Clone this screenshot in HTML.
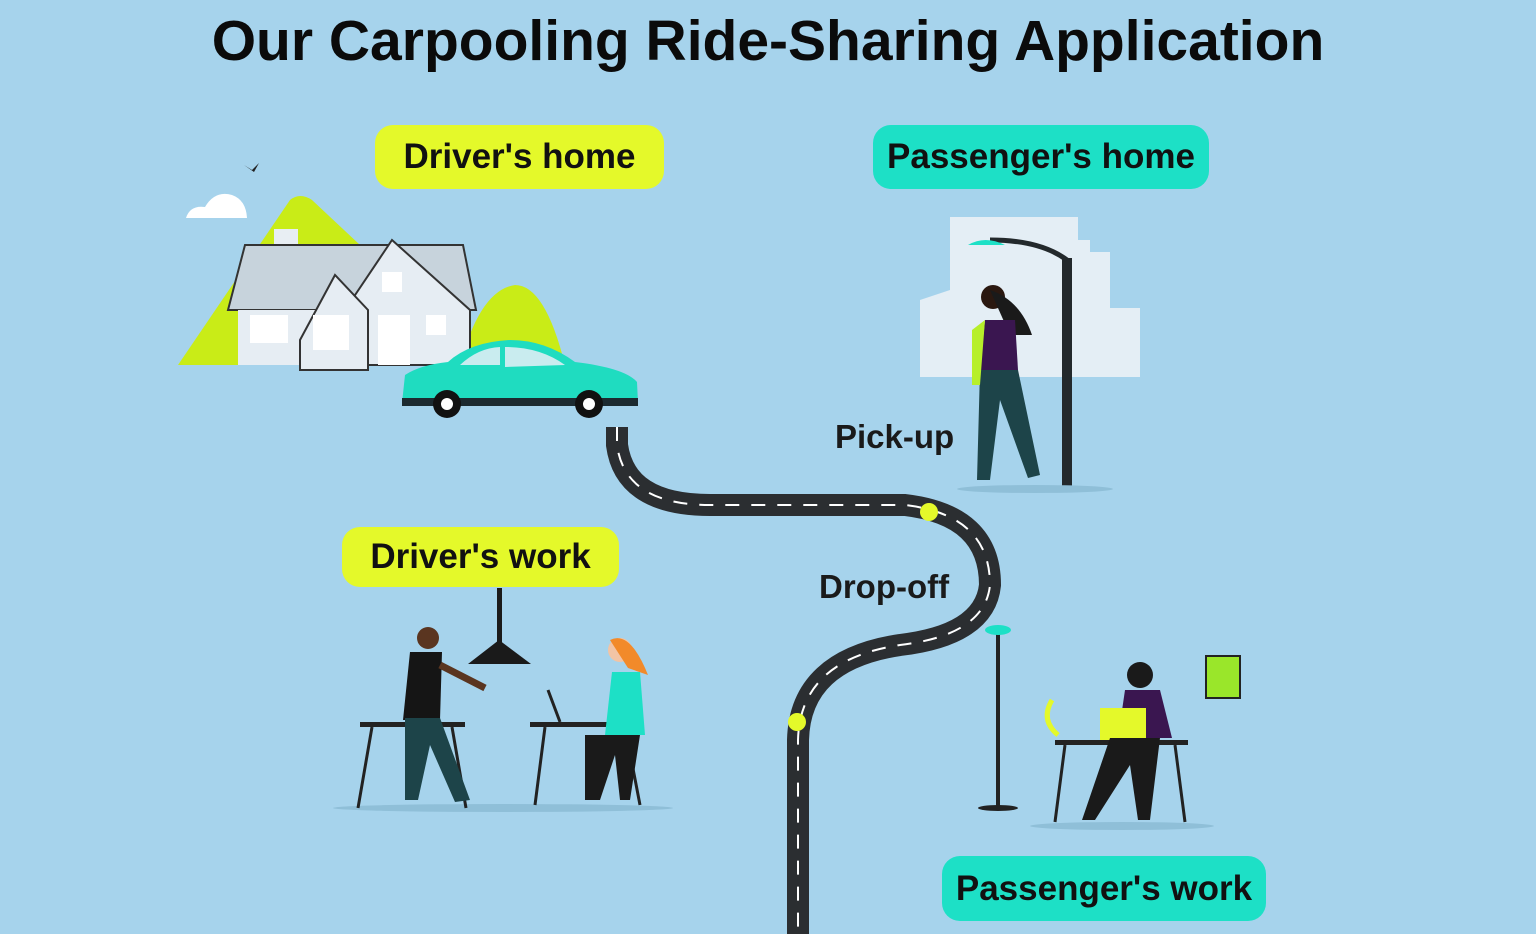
<!DOCTYPE html>
<html><head><meta charset="utf-8"><style>
html,body{margin:0;padding:0}
body{width:1536px;height:934px;background:#a6d3ec;position:relative;overflow:hidden;font-family:"Liberation Sans",sans-serif}
.t{position:absolute;left:0;width:1536px;top:8px;text-align:center;font-size:57px;font-weight:bold;color:#0b0b0b}
.pill{position:absolute;border-radius:18px;font-size:35px;font-weight:bold;color:#111;display:flex;align-items:center;justify-content:center}
.y{background:#e4f92a}.g{background:#1de0c6}
.lbl{position:absolute;font-size:33px;font-weight:bold;color:#1a1a1a}
svg{position:absolute;left:0;top:0}
</style></head><body>
<svg width="1536" height="934">
 <path d="M178,365 L290,200 Q300,192 312,200 L360,245 L360,365Z" fill="#c9ec17"/>
 <path d="M460,365 Q480,290 515,285 Q545,285 565,365Z" fill="#c9ec17"/>
 <path d="M186,218 Q190,205 205,207 Q215,190 232,195 Q246,200 247,218Z" fill="#fff"/>
 <path d="M244,165 L252,170 L259,163 L254,172Z" fill="#222"/>
 <g>
  <rect x="274" y="229" width="24" height="18" fill="#e8eef3"/>
  <path d="M228,310 L245,245 L463,245 L476,310Z" fill="#c7d3dc" stroke="#333" stroke-width="2"/>
  <rect x="238" y="310" width="230" height="55" fill="#e6edf3"/>
  <path d="M345,310 L392,240 L470,310 L470,365 L345,365Z" fill="#e6edf3" stroke="#333" stroke-width="2"/>
  <path d="M300,340 L335,275 L368,310 L368,370 L300,370Z" fill="#e6edf3" stroke="#333" stroke-width="2"/>
  <rect x="250" y="315" width="38" height="28" fill="#fff"/>
  <rect x="313" y="315" width="36" height="35" fill="#fff"/>
  <rect x="378" y="315" width="32" height="50" fill="#fff"/>
  <rect x="382" y="272" width="20" height="20" fill="#fff"/>
  <rect x="426" y="315" width="20" height="20" fill="#fff"/>
 </g>
 <g>
  <path d="M402,403 L405,375 Q420,365 448,362 Q470,342 510,340 Q545,340 575,362 Q625,368 637,382 L638,403Z" fill="#1fdcc0"/>
  <rect x="402" y="398" width="236" height="8" fill="#1c2a30"/>
  <path d="M460,365 Q478,348 500,347 L500,365Z M505,347 Q540,347 565,365 L505,367Z" fill="#c9ecef"/>
  <circle cx="447" cy="404" r="14" fill="#111"/><circle cx="447" cy="404" r="6" fill="#fff"/>
  <circle cx="589" cy="404" r="14" fill="#111"/><circle cx="589" cy="404" r="6" fill="#fff"/>
 </g>
 <g>
  <path d="M617,427 L617,445 Q625,505 710,505 L905,505 Q990,515 990,585 Q985,635 900,645 Q800,660 798,740 L798,934" fill="none" stroke="#2b2e31" stroke-width="22"/>
  <path d="M617,427 L617,445 Q625,505 710,505 L905,505 Q990,515 990,585 Q985,635 900,645 Q800,660 798,740 L798,934" fill="none" stroke="#fff" stroke-width="2" stroke-dasharray="14,12"/>
  <circle cx="929" cy="512" r="9" fill="#e4f92a"/>
  <circle cx="797" cy="722" r="9" fill="#e4f92a"/>
 </g>
 <g>
  <path d="M950,217 L1078,217 L1078,240 L1090,240 L1090,252 L1110,252 L1110,308 L1140,308 L1140,377 L920,377 L920,300 L950,290Z" fill="#e4eef5"/>
  <rect x="1062" y="258" width="10" height="230" fill="#23292c"/>
  <path d="M1067,260 Q1040,240 990,240" fill="none" stroke="#23292c" stroke-width="5"/>
  <path d="M968,245 Q985,235 1005,245Z" fill="#1de0c6"/>
  <circle cx="993" cy="297" r="12" fill="#2a1810"/>
  <path d="M990,290 Q1020,300 1032,335 L1010,335Z" fill="#1a1a1a"/>
  <path d="M985,320 L1015,320 L1018,370 L980,370Z" fill="#3a1650"/>
  <path d="M980,370 L1018,370 L1040,475 L1028,478 L1000,400 L990,480 L977,480Z" fill="#1d4449"/>
  <path d="M972,330 L985,320 L980,385 L972,385Z" fill="#b7ef2a"/>
  <ellipse cx="1035" cy="489" rx="78" ry="4" fill="#8fbfd8"/>
 </g>
 <g>
  <rect x="497" y="588" width="5" height="55" fill="#1a1a1a"/>
  <path d="M468,664 L499,640 L531,664Z" fill="#1a1a1a"/>
  <ellipse cx="503" cy="808" rx="170" ry="4" fill="#8fbfd8"/>
  <rect x="360" y="722" width="105" height="5" fill="#222"/>
  <path d="M372,727 L358,808 M452,727 L466,808" stroke="#222" stroke-width="3"/>
  <rect x="530" y="722" width="110" height="5" fill="#222"/>
  <path d="M545,727 L535,805 M625,727 L640,805" stroke="#222" stroke-width="3"/>
  <circle cx="428" cy="638" r="11" fill="#5a3520"/>
  <path d="M410,652 L442,652 L440,720 L403,720Z" fill="#151515"/>
  <path d="M440,665 L485,688" stroke="#5a3520" stroke-width="7"/>
  <path d="M405,718 L440,718 L470,800 L455,802 L430,745 L418,800 L405,800Z" fill="#1d4449"/>
  <circle cx="620" cy="650" r="12" fill="#f2c4a5"/>
  <path d="M610,640 Q630,630 648,675 L628,668Z" fill="#f28a2a"/>
  <path d="M612,672 L640,672 L645,735 L605,735Z" fill="#1de0c6"/>
  <path d="M585,735 L640,735 L630,800 L620,800 L615,755 L600,800 L585,800 Z" fill="#1a1a1a"/>
  <path d="M548,690 L560,722" stroke="#222" stroke-width="3"/>
 </g>
 <g>
  <rect x="996" y="632" width="4" height="175" fill="#222"/>
  <ellipse cx="998" cy="630" rx="13" ry="5" fill="#1de0c6"/>
  <ellipse cx="998" cy="808" rx="20" ry="3" fill="#222"/>
  <rect x="1206" y="656" width="34" height="42" fill="#9ae62a" stroke="#222" stroke-width="2"/>
  <ellipse cx="1122" cy="826" rx="92" ry="4" fill="#8fbfd8"/>
  <rect x="1055" y="740" width="133" height="5" fill="#222"/>
  <path d="M1065,745 L1055,822 M1175,745 L1185,822" stroke="#222" stroke-width="3"/>
  <circle cx="1140" cy="675" r="13" fill="#1a1a1a"/>
  <path d="M1125,690 L1160,690 L1172,738 L1118,738Z" fill="#3a1650"/>
  <rect x="1100" y="708" width="46" height="32" fill="#e4f92a"/>
  <path d="M1052,700 Q1040,720 1058,735" fill="none" stroke="#e4f92a" stroke-width="5"/>
  <path d="M1110,738 L1160,738 L1150,820 L1138,820 L1130,765 L1095,820 L1082,820Z" fill="#1a1a1a"/>
 </g>
</svg>
<div class="t">Our Carpooling Ride-Sharing Application</div>
<div class="pill y" style="left:375px;top:125px;width:289px;height:64px">Driver's home</div>
<div class="pill g" style="left:873px;top:125px;width:336px;height:64px">Passenger's home</div>
<div class="pill y" style="left:342px;top:527px;width:277px;height:60px">Driver's work</div>
<div class="pill g" style="left:942px;top:856px;width:324px;height:65px">Passenger's work</div>
<div class="lbl" style="left:835px;top:418px">Pick-up</div>
<div class="lbl" style="left:819px;top:568px">Drop-off</div>
</body></html>
